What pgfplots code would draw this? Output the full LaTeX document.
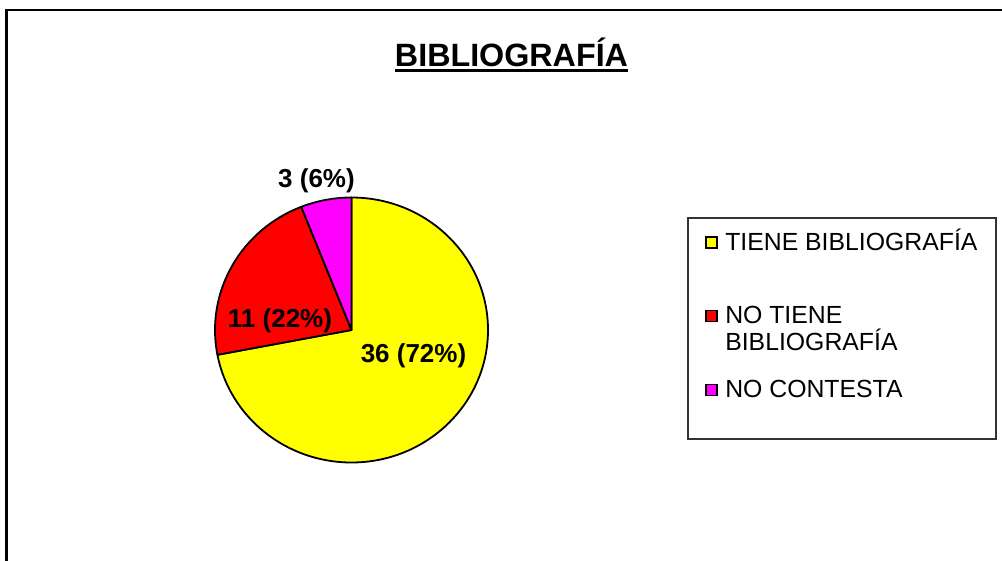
\documentclass[border=0pt]{standalone}
\usepackage{pgfplots}
\pgfplotsset{compat=1.18}
\usepackage{pgfplotstable}
\usepackage{fontspec}
\setmainfont{Liberation Sans}
\definecolor{pieyellow}{RGB}{255,255,0}
\definecolor{piered}{RGB}{255,0,0}
\definecolor{piemag}{RGB}{255,0,255}
\begin{document}
\pgfplotstableread{
cat value
1 36
2 11
3 3
}\piedata
\begin{tikzpicture}
\useasboundingbox (0,0) rectangle (751.5pt,420pt);
\pgfplotstablegetelem{0}{value}\of\piedata \let\vA\pgfplotsretval
\pgfplotstablegetelem{1}{value}\of\piedata \let\vB\pgfplotsretval
\pgfplotstablegetelem{2}{value}\of\piedata \let\vC\pgfplotsretval
\pgfmathsetmacro\tot{\vA+\vB+\vC}
\pgfmathsetmacro\aA{90-360*\vA/\tot}
\pgfmathsetmacro\aB{\aA-360*\vB/\tot}
\pgfmathsetmacro\aC{\aB-360*\vC/\tot}
\pgfmathtruncatemacro\pA{round(100*\vA/\tot)}
\pgfmathtruncatemacro\pB{round(100*\vB/\tot)}
\pgfmathtruncatemacro\pC{round(100*\vC/\tot)}
\def\rx{102.375pt}
\def\ry{99.375pt}
\begin{axis}[at={(0,0)},anchor=south west,scale only axis,
  width=751.5pt,height=420pt,xmin=0,xmax=1002,ymin=0,ymax=560,
  y dir=reverse,hide axis,clip=false]
% frame
\draw[black,line width=1.5pt] (axis cs:6.5,580) -- (axis cs:6.5,10.5) -- (axis cs:1020,10.5);
% title
\node[anchor=base,inner sep=0pt,font=\fontsize{24.2}{28}\selectfont\bfseries] at (axis cs:511.5,66) {BIBLIOGRAFÍA};
\draw[black,line width=2.2pt] (axis cs:395,70.5) -- (axis cs:628,70.5);
% pie
\filldraw[fill=pieyellow,draw=black,line width=1.35pt,line join=round]
  (axis cs:351.5,330) -- ++({\rx*cos(90)},{\ry*sin(90)})
  arc[start angle=90,end angle=\aA,x radius=\rx,y radius=\ry] -- cycle;
\filldraw[fill=piered,draw=black,line width=1.35pt,line join=round]
  (axis cs:351.5,330) -- ++({\rx*cos(\aA)},{\ry*sin(\aA)})
  arc[start angle=\aA,end angle=\aB,x radius=\rx,y radius=\ry] -- cycle;
\filldraw[fill=piemag,draw=black,line width=1.35pt,line join=round]
  (axis cs:351.5,330) -- ++({\rx*cos(\aB)},{\ry*sin(\aB)})
  arc[start angle=\aB,end angle=\aC,x radius=\rx,y radius=\ry] -- cycle;
% labels
\node[anchor=base,inner sep=0pt,font=\fontsize{19.5}{22}\selectfont\bfseries] at (axis cs:413.5,362.5) {\vA\ (\pA\%)};
\node[anchor=base,inner sep=0pt,font=\fontsize{19.5}{22}\selectfont\bfseries] at (axis cs:280,327.5) {\vB\ (\pB\%)};
\node[anchor=base,inner sep=0pt,font=\fontsize{19.5}{22}\selectfont\bfseries] at (axis cs:316.5,187) {\vC\ (\pC\%)};
% legend
\draw[black!80,line width=0.8pt] (axis cs:688,218) rectangle (axis cs:996,439);
\filldraw[fill=pieyellow,draw=black,line width=0.8pt] (axis cs:706,237) rectangle (axis cs:717,248);
\filldraw[fill=piered,draw=black,line width=0.8pt] (axis cs:706,310.5) rectangle (axis cs:717,321.5);
\filldraw[fill=piemag,draw=black,line width=0.8pt] (axis cs:706,384.5) rectangle (axis cs:717,395.5);
\node[anchor=base west,inner sep=0pt,font=\fontsize{18.6}{22}\selectfont] at (axis cs:725,250) {TIENE BIBLIOGRAFÍA};
\node[anchor=base west,inner sep=0pt,font=\fontsize{18.6}{22}\selectfont] at (axis cs:725,323) {NO TIENE};
\node[anchor=base west,inner sep=0pt,font=\fontsize{18.6}{22}\selectfont] at (axis cs:725,350) {BIBLIOGRAFÍA};
\node[anchor=base west,inner sep=0pt,font=\fontsize{18.6}{22}\selectfont] at (axis cs:725,397) {NO CONTESTA};
\end{axis}
\end{tikzpicture}
\end{document}
